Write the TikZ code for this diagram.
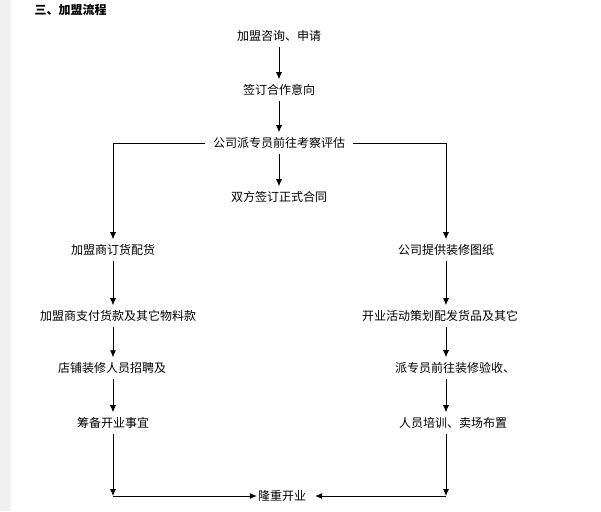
\documentclass[tikz,border=0pt]{standalone}
\usepackage{fontspec}
\setmainfont{Noto Sans CJK SC}
\usetikzlibrary{arrows.meta}

\begin{document}
\begin{tikzpicture}[x=1pt,y=-1pt,
  step box/.style={inner xsep=2pt,inner ysep=5pt,font=\fontsize{12}{14}\selectfont},
  flow/.style={black,line width=0.8pt,-{Latex[length=7pt,width=6pt]}}]
\useasboundingbox (0,0) rectangle (601,511);
\fill[gray!12] (0,0) rectangle (11,511);

\node[anchor=west,font=\fontsize{12}{14}\selectfont\bfseries](title) at (31,10) {三、加盟流程};

% main line
\node[step box](ask) at (279,36) {加盟咨询、申请};
\node[step box](intent) at (279,90) {签订合作意向};
\node[step box,inner xsep=8pt](visit) at (279,143) {公司派专员前往考察评估};
\node[step box](contract) at (279,197) {双方签订正式合同};

% left branch
\node[step box](order) at (113,250) {加盟商订货配货};
\node[step box](pay) at (118,316) {加盟商支付货款及其它物料款};
\node[step box](staff) at (112,368) {店铺装修人员招聘及};
\node[step box](prep) at (113,423) {筹备开业事宜};

% right branch
\node[step box](plan) at (446,250) {公司提供装修图纸};
\node[step box](goods) at (440,316) {开业活动策划配发货品及其它};
\node[step box](check) at (455,368) {派专员前往装修验收、};
\node[step box](train) at (453,423) {人员培训、卖场布置};

\node[step box,inner xsep=1pt](open) at (282,496) {隆重开业};
\coordinate (lc) at (open -| order);
\coordinate (rc) at (open -| plan);

\draw[flow] (ask) -- (intent);
\draw[flow] (intent) -- (visit);
\draw[flow] (visit) -- (contract);
\draw[flow] (visit.west) -| (order.north);
\draw[flow] (visit.east) -| (plan.north);

\foreach \a/\b in {order/pay,pay/staff,staff/prep}
  \draw[flow] (\a.south -| order) -- (\b.north -| order);
\foreach \a/\b in {plan/goods,goods/check,check/train}
  \draw[flow] (\a.south -| plan) -- (\b.north -| plan);

\draw[flow] (prep.south -| order) -- (lc);
\draw[flow] (train.south -| plan) -- (rc);
\draw[flow] (lc) -- (open.west);
\draw[flow,shorten >=8pt] (rc) -- (open.east);
\end{tikzpicture}
\end{document}
